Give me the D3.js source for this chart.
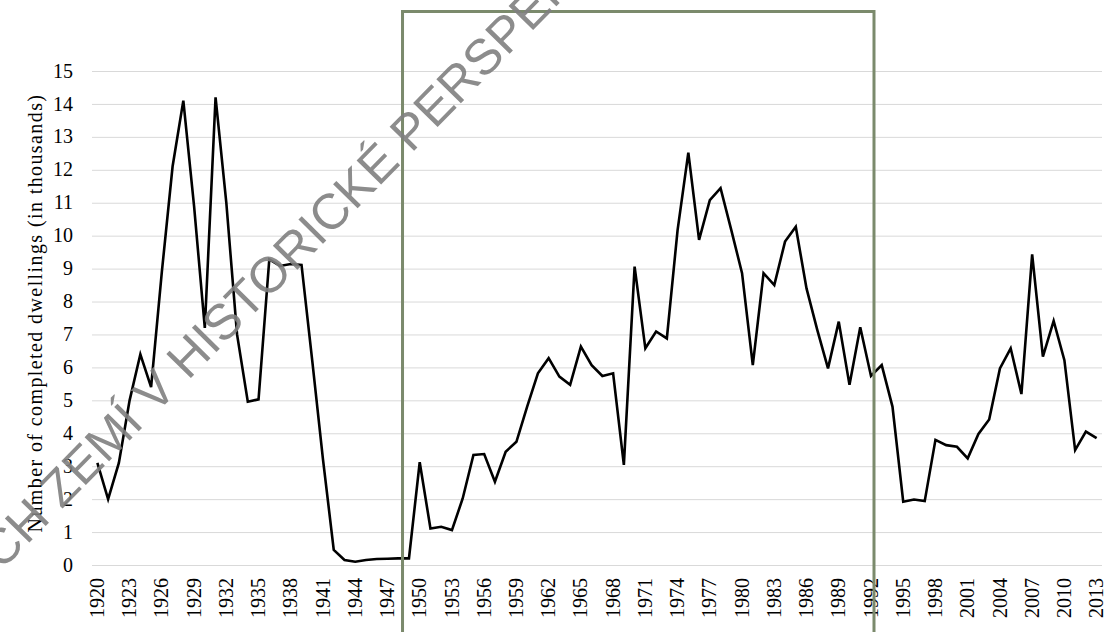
<!DOCTYPE html>
<html>
<head>
<meta charset="utf-8">
<script src="https://cdnjs.cloudflare.com/ajax/libs/d3/7.8.5/d3.min.js"></script>
<style>
	body { margin: 0; background: #fff; }
	#graph { display: block; }
</style>
</head>
<body>
<svg id="graph"></svg>
<script>
var years = d3.range(1920, 2014);
var dwellings = [
	3.1, 2.0, 3.1, 5.0, 6.4, 5.4, 8.9, 12.1, 14.1, 10.9,
	7.2, 14.2, 11.0, 7.0, 4.96, 5.03, 9.28, 9.08, 9.14, 9.11,
	6.2, 3.2, 0.46, 0.15, 0.1, 0.15, 0.18, 0.19, 0.2, 0.2,
	3.12, 1.11, 1.16, 1.06, 2.02, 3.34, 3.37, 2.53, 3.44, 3.74,
	4.81, 5.82, 6.28, 5.72, 5.47, 6.63, 6.07, 5.74, 5.82, 3.04,
	9.06, 6.58, 7.09, 6.88, 10.17, 12.52, 9.87, 11.08, 11.44, 10.17,
	8.86, 6.07, 8.86, 8.5, 9.82, 10.27, 8.4, 7.14, 5.97, 7.39,
	5.47, 7.22, 5.74, 6.07, 4.81, 1.92, 1.99, 1.94, 3.8, 3.64,
	3.59, 3.24, 3.98, 4.42, 5.97, 6.58, 5.19, 9.43, 6.33, 7.41,
	6.22, 3.49, 4.05, 3.85
];
var yTicks = d3.range(0, 16);
var xTickYears = years.filter(function(y) { return (y - 1920) % 3 == 0; });
var highlight = [1949, 1992];
var yTitle = "Number of completed dwellings (in thousands)";
var watermark = "ČESKÝCH ZEMÍ V HISTORICKÉ PERSPEKTIVĚ";

document.addEventListener("DOMContentLoaded", function() {
	var width = 1107;
	var height = 632;
	var svg = d3.select("#graph").attr("width", width).attr("height", height);
	var serif = "'Liberation Serif', 'DejaVu Serif', serif";

	var x = d3.scalePoint().domain(years).range([92, 1102]).padding(0.5);
	var y = d3.scaleLinear().domain([0, 15]).range([565, 71]);

	// gridlines
	svg.append("g").selectAll("line").data(yTicks).enter().append("line")
		.attr("x1", 92).attr("x2", 1102)
		.attr("y1", function(d) { return y(d) + 0.5; })
		.attr("y2", function(d) { return y(d) + 0.5; })
		.style("stroke", "#d9d9d9").style("stroke-width", 1);

	// y labels
	svg.append("g").selectAll("text").data(yTicks).enter().append("text")
		.attr("x", 73).attr("y", function(d) { return y(d); })
		.attr("dy", "0.33em")
		.attr("text-anchor", "end")
		.style("font-family", serif).style("font-size", "20px").style("fill", "#000")
		.text(function(d) { return d; });

	// x labels
	svg.append("g").selectAll("text").data(xTickYears).enter().append("text")
		.attr("transform", function(d) { return "translate(" + x(d) + ",578) rotate(-90)"; })
		.attr("dy", "0.33em")
		.attr("text-anchor", "end")
		.style("font-family", serif).style("font-size", "20px").style("fill", "#000")
		.text(function(d) { return d; });

	svg.append("text")
		.attr("transform", "translate(35,313) rotate(-90)")
		.attr("dy", "0.33em")
		.attr("text-anchor", "middle")
		.style("font-family", serif).style("font-size", "20px")
		.style("letter-spacing", "1.4px").style("fill", "#000")
		.text(yTitle);

	// the series
	var line = d3.line()
		.x(function(d, i) { return x(years[i]); })
		.y(function(d) { return y(d); });
	svg.append("path").datum(dwellings)
		.attr("d", line)
		.style("fill", "none").style("stroke", "#000").style("stroke-width", 2.6)
		.style("stroke-linejoin", "miter");

	// box around the 1949-1992 period
	var bx1 = x(highlight[0]) - 0.6 * x.step();
	var bx2 = x(highlight[1]) + 0.28 * x.step();
	svg.append("path")
		.attr("d", "M" + bx1 + "," + (height + 5) + "V11.5H" + bx2 + "V" + (height + 5))
		.style("fill", "none").style("stroke", "#7b8a6c").style("stroke-width", 3);

	// watermark (anchored on the O of HISTORICKÉ)
	svg.append("text")
		.attr("transform", "translate(269,273) rotate(-45.5)")
		.attr("x", -570).attr("y", 18)
		.style("font-family", "'Liberation Sans', Arial, sans-serif")
		.style("font-size", "50px")
		.style("fill", "#808080").style("opacity", 0.9)
		.text(watermark);
});
</script>
</body>
</html>
